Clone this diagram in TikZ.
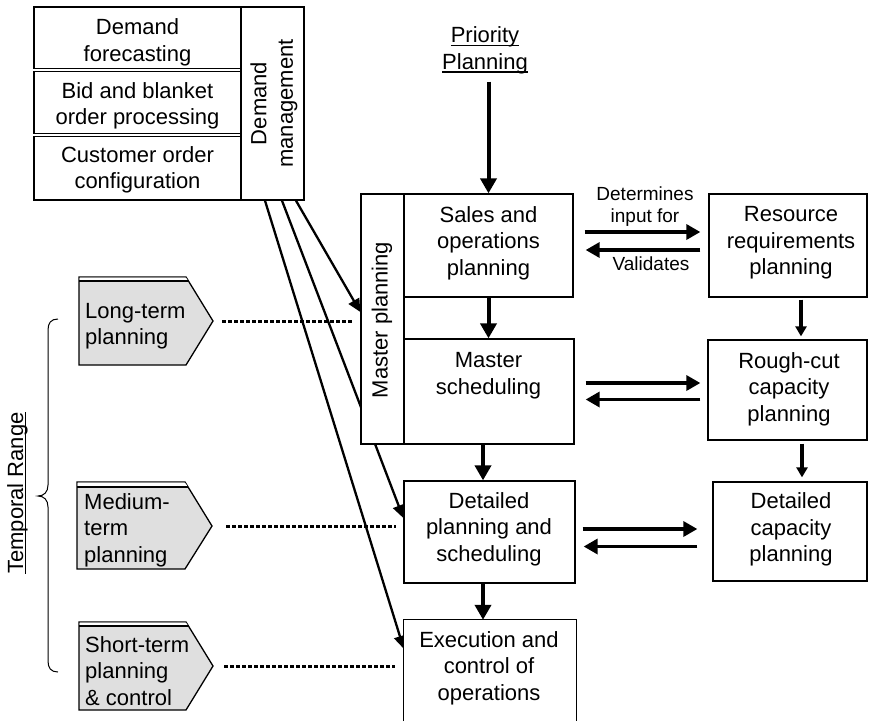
\documentclass[tikz,border=0pt]{standalone}
\usepackage{fontspec}
\setmainfont{Liberation Sans}
\usetikzlibrary{arrows.meta,calc}
\pgfdeclarelayer{bg}
\pgfsetlayers{bg,main}
\newsavebox\myulbox
\newcommand\myul[1]{\sbox\myulbox{#1}\rlap{\rule[-3.2pt]{\wd\myulbox}{1.4pt}}\usebox\myulbox}
\begin{document}
\begin{tikzpicture}[x=1pt,y=-1pt,
 box/.style={draw, line width=1.3pt, fill=white, inner sep=0pt},
 txt/.style={align=center, inner sep=0pt, font=\fontsize{22}{26.5}\selectfont},
 ltxt/.style={align=left, inner sep=0pt, anchor=west, font=\fontsize{22}{26.5}\selectfont},
 stxt/.style={align=center, inner sep=0pt, font=\fontsize{19}{22.7}\selectfont},
 bigarrow/.style={line width=4pt, -{Triangle[length=15pt,width=16pt]}},
 harrow/.style={line width=3.3pt, -{Triangle[length=14pt,width=15pt]}},
 varrow/.style={line width=3.5pt, -{Triangle[length=10pt,width=11pt]}},
 diag/.style={line width=2.3pt, -{Triangle[length=13pt,width=12pt]}},
 dotline/.style={line width=3pt, dash pattern=on 3.5pt off 2.5pt},
 tagshape/.style={draw, line width=1.3pt, fill=gray!25, line join=miter},
 edge/.style={line width=1.3pt},
]
\useasboundingbox (0,0) rectangle (870,721);

% boxes
\node[box, minimum width=207pt, minimum height=61.5pt] (df) at (137.5,37.75) {};
\node[box, minimum width=207pt, minimum height=62.4pt] (bb) at (137.5,102.5) {};
\node[box, minimum width=207pt, minimum height=63.5pt] (co) at (137.5,168.25) {};
\node[box, minimum width=63pt, minimum height=193pt] (dm) at (272.5,103.5) {};
\node[box, minimum width=43pt, minimum height=250pt] (mp) at (382.5,319) {};
\node[box, minimum width=169pt, minimum height=103pt] (sop) at (488.5,245.5) {};
\node[box, minimum width=170pt, minimum height=105pt] (ms) at (489,391.5) {};
\node[box, minimum width=158pt, minimum height=103pt] (rrp) at (788,245.5) {};
\node[box, minimum width=159pt, minimum height=100pt] (rccp) at (787.5,390) {};
\node[box, minimum width=171pt, minimum height=102pt] (dps) at (489.5,532) {};
\node[box, minimum width=154pt, minimum height=99pt] (dcp) at (790,531.5) {};
\node[inner sep=0pt, minimum width=172pt, minimum height=101pt, fill=white] (eco) at (490,670.5) {};
\draw[edge] (eco.south west) -- (eco.north west) -- (eco.north east) -- (eco.south east);

% texts
\node[txt] (tdf) at (137.5,42.5) {Demand\\forecasting};
\node[txt] (tbb) at (137.5,106) {Bid and blanket\\order processing};
\node[txt] (tco) at (137.5,169.7) {Customer order\\configuration};
\node[txt, rotate=90] (tdm) at (274,103.5) {Demand\\management};
\node[txt, rotate=90] (tmp) at (382,320) {Master planning};
\node[txt] (tsop) at (488.5,243) {Sales and\\operations\\planning};
\node[txt] (tms) at (488.5,375.5) {Master\\scheduling};
\node[txt] (trrp) at (791,243) {Resource\\requirements\\planning};
\node[txt] (trccp) at (789,389) {Rough-cut\\capacity\\planning};
\node[txt] (tdcp) at (791,529.5) {Detailed\\capacity\\planning};
\node[txt] (tdps) at (489,529) {Detailed\\planning and\\scheduling};
\node[txt] (teco) at (489,668) {Execution and\\control of\\operations};
\node[txt] (pp) at (485,50.5) {\myul{Priority}\\\myul{Planning}};
\node[txt, rotate=90] (tr) at (17.4,493) {\myul{Temporal Range}};
\node[stxt] (det) at (645,206.7) {Determines\\input for};
\node[stxt] (val) at (651,263.7) {Validates};

% diagonal arrows from demand management (behind boxes)
\begin{pgfonlayer}{bg}
\draw[diag] ([xshift=23.5pt]dm.south) -- ([yshift=7pt]mp.west);
\draw[diag] ([xshift=9.5pt]dm.south) -- ([yshift=14pt]dps.west);
\draw[diag] ([xshift=-7.5pt]dm.south) -- ([yshift=-29pt]eco.north west);
\end{pgfonlayer}

% vertical arrows
\draw[bigarrow, shorten <=7.5pt] (sop.north |- pp.south) -- (sop.north);
\draw[bigarrow] (sop.south) -- (sop.south |- ms.north);
\draw[bigarrow] ([xshift=-6pt]ms.south) -- ([xshift=-6pt]ms.south |- dps.north);
\draw[bigarrow] ([xshift=-6.5pt]dps.south) -- ([xshift=-6.5pt]dps.south |- eco.north);
\draw[varrow, shorten <=2pt, shorten >=3pt] ([xshift=13pt]rrp.south) -- ([xshift=13pt]rrp.south |- rccp.north);
\draw[varrow, shorten <=3pt, shorten >=4pt] ([xshift=14.5pt]rccp.south) -- ([xshift=14.5pt]rccp.south |- dcp.north);

% horizontal arrow pairs
\draw[harrow, shorten <=11pt, shorten >=8pt] ([yshift=13.5pt]sop.east) -- ([yshift=13.5pt]sop.east -| rrp.west);
\draw[harrow, shorten <=8pt, shorten >=12pt] ([yshift=-4.5pt]rrp.west) -- ([yshift=-4.5pt]rrp.west -| sop.east);
\draw[harrow, shorten <=11pt, shorten >=7pt] ([yshift=8.5pt]ms.east) -- ([yshift=8.5pt]ms.east -| rccp.west);
\draw[harrow, shorten <=7pt, shorten >=11pt] ([yshift=-9.5pt]rccp.west) -- ([yshift=-9.5pt]rccp.west -| ms.east);
\draw[harrow, shorten <=7pt, shorten >=15pt] ([yshift=3pt]dps.east) -- ([yshift=3pt]dps.east -| dcp.west);
\draw[harrow, shorten <=15pt, shorten >=8pt] ([yshift=-15pt]dcp.west) -- ([yshift=-15pt]dcp.west -| dps.east);

% tags
\draw[tagshape] (79,277) -- (186,277) -- (213,321) -- (186,365) -- (79,365) -- cycle;
\fill[white] (79.7,277.7) -- (186,277.7) -- (188.2,281) -- (79.7,281) -- cycle;
\draw[edge] (79,281) -- (188.5,281);
\draw[tagshape] (77,482) -- (185,482) -- (212,526) -- (185,569) -- (77,569) -- cycle;
\fill[white] (77.7,482.7) -- (185,482.7) -- (188,487) -- (77.7,487) -- cycle;
\draw[edge] (77,487) -- (188,487);
\draw[tagshape] (79,622) -- (186,622) -- (213,666) -- (186,710) -- (79,710) -- cycle;
\fill[white] (79.7,622.7) -- (186,622.7) -- (188.2,626) -- (79.7,626) -- cycle;
\draw[edge] (79,626) -- (188.5,626);
\coordinate (ltip) at (213,321);
\coordinate (mtip) at (212,526);
\coordinate (stip) at (213,666);
\node[ltxt] (tlt) at (85,326) {Long-term\\planning};
\node[ltxt] (tmt) at (84,530) {Medium-\\term\\planning};
\node[ltxt] (tst) at (85,671) {Short-term\\planning\\\& control};

% dotted lines
\draw[dotline, shorten <=9pt, shorten >=8pt] (ltip) -- (ltip -| mp.west);
\draw[dotline, shorten <=14pt, shorten >=7pt] (mtip) -- (mtip -| dps.west);
\draw[dotline, shorten <=11pt, shorten >=9pt] (stip) -- (stip -| eco.west);

% brace
\draw[line width=1pt] (58,319) .. controls (51,319) and (48,323) .. (48,330) -- (48,485) .. controls (48,492) and (44,496) .. (38,496) .. controls (44,496) and (48,500) .. (48,507) -- (48,661) .. controls (48,668) and (51,672) .. (58,672);
\end{tikzpicture}
\end{document}
